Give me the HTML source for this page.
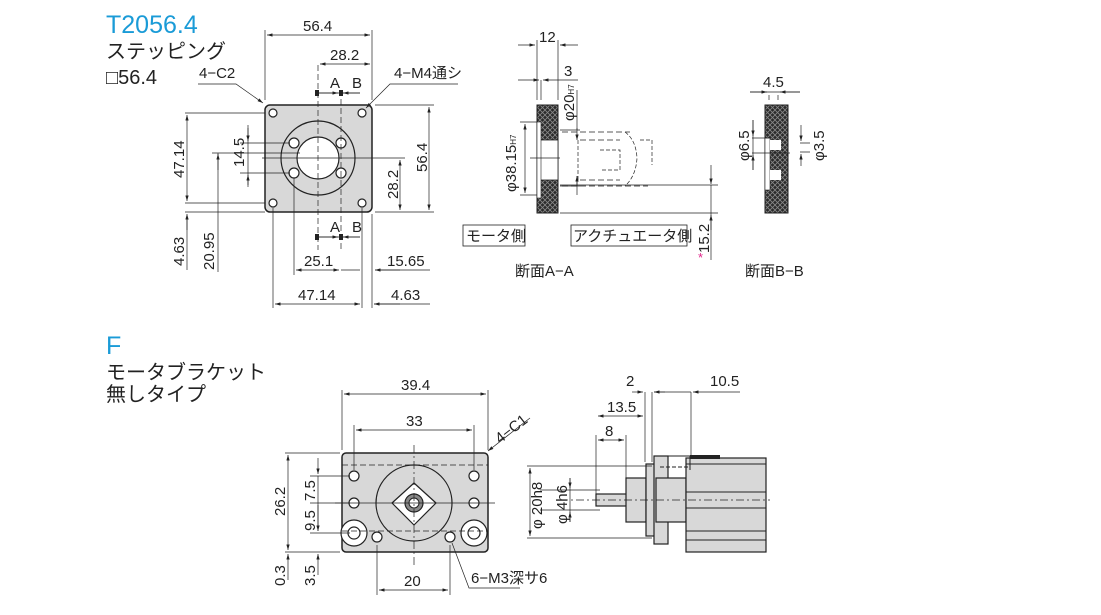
<!DOCTYPE html>
<html><head><meta charset="utf-8"><style>
body{margin:0;background:#fff}
svg{display:block;font-family:"Liberation Sans","Noto Sans CJK JP",sans-serif}
text{fill:#222;font-size:15px}
.t{font-size:15px}
</style></head><body>
<svg width="1101" height="615" viewBox="0 0 1101 615" xmlns="http://www.w3.org/2000/svg">
<defs>
<pattern id="h" width="5" height="5" patternUnits="userSpaceOnUse">
<rect width="5" height="5" fill="#2a2a2a"/><path d="M0 0L5 5M5 0L0 5" stroke="#888" stroke-width="0.8"/>
</pattern>
<marker id="a" viewBox="0 0 10 6" refX="10" refY="3" markerWidth="8" markerHeight="5" orient="auto-start-reverse"><path d="M0 0L10 3L0 6z" fill="#222"/></marker>
</defs>
<text x="106" y="33" style="font-size:25px;fill:#1a9bd7">T2056.4</text>
<text x="106" y="58" style="font-size:20px">ステッピング</text>
<text x="106" y="84" style="font-size:20px">□56.4</text>
<text x="106" y="354" style="font-size:25px;fill:#1a9bd7">F</text>
<text x="106" y="379" style="font-size:20px">モータブラケット</text>
<text x="106" y="401" style="font-size:20px">無しタイプ</text>

<!-- top plate -->
<rect x="265" y="105" width="107" height="107" rx="5" fill="#d8d8d8" stroke="#222" stroke-width="1.5"/>
<circle cx="318" cy="158" r="37" fill="none" stroke="#222" stroke-width="1.2"/>
<circle cx="318" cy="158" r="21" fill="#fff" stroke="#222" stroke-width="1.2"/>
<g fill="#fff" stroke="#222" stroke-width="1.2">
<circle cx="273" cy="113" r="4"/><circle cx="362" cy="113" r="4"/><circle cx="273" cy="203" r="4"/><circle cx="362" cy="203" r="4"/>
<circle cx="294" cy="143" r="5"/><circle cx="341" cy="143" r="5"/><circle cx="294" cy="173" r="5"/><circle cx="341" cy="173" r="5"/>
</g>
<g stroke="#222" stroke-width="0.7" fill="none">
<path d="M318 65V250M341 90V250" stroke-dasharray="6 3"/>
<path d="M262 158H375"/>
<path d="M265 100V30M372 100V30"/>
<path d="M267 35H370" marker-start="url(#a)" marker-end="url(#a)"/>
<path d="M320 64H370" marker-start="url(#a)" marker-end="url(#a)"/>
<path d="M317 93H360"/><path d="M317 93H338" marker-end="url(#a)"/><path d="M360 93H343" marker-end="url(#a)"/>
<path d="M317 237H360"/><path d="M317 237H338" marker-end="url(#a)"/><path d="M360 237H343" marker-end="url(#a)"/>
<path d="M198 84H236L263 103" marker-end="url(#a)"/>
<path d="M458 84H390L366 108" marker-end="url(#a)"/>
<path d="M185 113H265M185 203H265M185 212H265"/>
<path d="M187 115V201" marker-start="url(#a)" marker-end="url(#a)"/>
<path d="M187 216V270"/><path d="M187 230V214" marker-end="url(#a)"/>
<path d="M218 153V272"/><path d="M218 170V154" marker-end="url(#a)"/>
<path d="M212 153H300"/>
<path d="M248 125V187"/><path d="M248 128V141" marker-end="url(#a)"/><path d="M248 185V175" marker-end="url(#a)"/>
<path d="M240 143H290M240 173H290"/>
<path d="M375 158H405M375 212H434M375 105H434"/>
<path d="M400 160V210" marker-start="url(#a)" marker-end="url(#a)"/>
<path d="M429 107V210" marker-start="url(#a)" marker-end="url(#a)"/>
<path d="M294 178V275M273 208V308M362 208V308M372 214V308"/>
<path d="M296 270H339" marker-start="url(#a)" marker-end="url(#a)"/>
<path d="M341 270H360"/><path d="M400 270H375" marker-end="url(#a)"/><path d="M375 270H430"/>
<path d="M275 304H360" marker-start="url(#a)" marker-end="url(#a)"/>
<path d="M400 304H374" marker-end="url(#a)"/><path d="M374 304H430"/>
</g>
<rect x="315" y="90" width="4" height="6" fill="#222"/><rect x="339" y="90" width="4" height="6" fill="#222"/>
<rect x="315" y="234" width="4" height="6" fill="#222"/><rect x="339" y="234" width="4" height="6" fill="#222"/>
<text x="303" y="31">56.4</text>
<text x="330" y="60">28.2</text>
<text x="330" y="88">A</text><text x="352" y="88">B</text>
<text x="330" y="232">A</text><text x="352" y="232">B</text>
<text x="199" y="78">4−C2</text>
<text x="394" y="78">4−M4通シ</text>
<text x="304" y="266">25.1</text><text x="387" y="266">15.65</text>
<text x="298" y="300">47.14</text><text x="391" y="300">4.63</text>
<text transform="translate(184,178) rotate(-90)">47.14</text>
<text transform="translate(244,167) rotate(-90)">14.5</text>
<text transform="translate(184,266) rotate(-90)">4.63</text>
<text transform="translate(214,270) rotate(-90)">20.95</text>
<text transform="translate(398,199) rotate(-90)">28.2</text>
<text transform="translate(427,172) rotate(-90)">56.4</text>

<!-- section A-A -->
<rect x="537" y="105" width="21" height="108" fill="url(#h)" stroke="#222"/>
<rect x="540" y="140" width="18" height="40" fill="#fff" stroke="#222" stroke-width="0.8"/>
<rect x="537" y="122" width="4" height="76" fill="#fff" stroke="#222" stroke-width="0.6"/>
<g stroke="#222" stroke-width="0.7" fill="none">
<path d="M537 100V40M558 100V40" />
<path d="M518 45H535" marker-end="url(#a)"/><path d="M578 45H560" marker-end="url(#a)"/>
<path d="M518 80H539" marker-end="url(#a)"/><path d="M578 80H543" marker-end="url(#a)"/><path d="M541 80V100"/>
<path d="M525 124V193" marker-start="url(#a)" marker-end="url(#a)"/>
<path d="M520 122H537M520 195H537"/>
<path d="M577 90V130"/><path d="M577 128V140" marker-end="url(#a)"/><path d="M577 186V176" marker-end="url(#a)"/><path d="M577 176V195"/>
<path d="M560 130H580M560 186H580M530 158H560"/>
<path d="M562 132H630M562 186H648M580 140H620M580 180H620" stroke-dasharray="6 3"/>
<path d="M578 140V180M625 132Q636 140 637 158Q636 176 625 186M600 150H620V170H600M640 140H652V165" stroke-dasharray="4 2"/>
<path d="M560 213H718M560 185H718"/>
<path d="M711 165V184" marker-end="url(#a)"/><path d="M711 230V215" marker-end="url(#a)"/><path d="M711 185V260"/>
</g>
<text transform="translate(574,121) rotate(-90)">φ20<tspan style="font-size:8px">H7</tspan></text>
<text transform="translate(516,192) rotate(-90)">φ38.15<tspan style="font-size:8px">H7</tspan></text>
<text x="539" y="42">12</text><text x="564" y="76">3</text>
<rect x="463" y="225" width="62" height="21" fill="none" stroke="#222" stroke-width="0.8"/>
<text x="466" y="241">モータ側</text>
<rect x="571" y="225" width="116" height="21" fill="none" stroke="#222" stroke-width="0.8"/>
<text x="573" y="241">アクチュエータ側</text>
<text transform="translate(709,253) rotate(-90)">15.2</text>
<text x="698" y="262" style="fill:#e0248a;font-size:13px">*</text>
<text x="515" y="276">断面A−A</text>

<!-- section B-B -->
<rect x="765" y="105" width="23" height="108" fill="url(#h)" stroke="#222"/>
<rect x="765" y="138" width="5" height="52" fill="#fff" stroke="#222" stroke-width="0.6"/>
<rect x="770" y="140" width="11" height="10" fill="#fff"/><rect x="770" y="170" width="11" height="10" fill="#fff"/>
<g stroke="#222" stroke-width="0.7" fill="none">
<path d="M750 92H800M769 95V100M778 95V100"/>
<path d="M750 92H767" marker-end="url(#a)"/><path d="M800 92H780" marker-end="url(#a)"/>
<path d="M752 138H770M752 153H790M800 143H810M800 152H810"/>
<path d="M753 120V136" marker-end="url(#a)"/><path d="M753 170V155" marker-end="url(#a)"/><path d="M753 120V170"/>
<path d="M801 125V141" marker-end="url(#a)"/><path d="M801 166V154" marker-end="url(#a)"/>
</g>
<text x="763" y="87">4.5</text>
<text transform="translate(749,161) rotate(-90)">φ6.5</text>
<text transform="translate(824,161) rotate(-90)">φ3.5</text>
<text x="745" y="276">断面B−B</text>

<!-- F plate -->
<rect x="342" y="453" width="146" height="99" rx="4" fill="#d8d8d8" stroke="#222" stroke-width="1.5"/>
<circle cx="414" cy="503" r="38" fill="none" stroke="#222" stroke-width="1.2"/>
<path d="M414 483L436 503L414 525L392 503Z" fill="#fff" stroke="#222" stroke-width="1.2" stroke-linejoin="round"/>
<circle cx="414" cy="503" r="9" fill="#888" stroke="#222" stroke-width="1.2"/><circle cx="414" cy="503" r="5" fill="#fff" stroke="#222"/>
<g fill="#fff" stroke="#222" stroke-width="1.2">
<circle cx="354" cy="476" r="5"/><circle cx="474" cy="476" r="5"/><circle cx="354" cy="503" r="5"/><circle cx="474" cy="503" r="5"/>
<circle cx="377" cy="537" r="5"/><circle cx="450" cy="537" r="5"/>
<circle cx="354" cy="533" r="13"/><circle cx="474" cy="533" r="13"/>
<circle cx="354" cy="533" r="6"/><circle cx="474" cy="533" r="6"/>
</g>
<g stroke="#222" stroke-width="0.7" fill="none">
<path d="M342 465H488M342 531H488" stroke-dasharray="6 3"/>
<path d="M414 445V565" stroke-dasharray="8 3 2 3"/>
<path d="M335 503H495"/>
<path d="M342 450V390M488 450V390M354 470V425M474 470V425"/>
<path d="M344 394H486" marker-start="url(#a)" marker-end="url(#a)"/>
<path d="M356 430H472" marker-start="url(#a)" marker-end="url(#a)"/>
<path d="M530 418L488 451" marker-end="url(#a)"/>
<path d="M285 453H340M285 552H340M310 476H350M310 503H350M310 533H350"/>
<path d="M288 455V550" marker-start="url(#a)" marker-end="url(#a)"/>
<path d="M318 458V474" marker-end="url(#a)"/><path d="M318 476V531"/><path d="M318 505V531" marker-end="url(#a)"/>
<path d="M318 575V554" marker-end="url(#a)"/><path d="M288 580V554" marker-end="url(#a)"/>
<path d="M377 545V595M450 545V595"/>
<path d="M379 590H448" marker-start="url(#a)" marker-end="url(#a)"/>
<path d="M452 543L469 588H520"/>
</g>
<text x="401" y="390">39.4</text>
<text x="406" y="426">33</text>
<text transform="translate(500,444) rotate(-38)">4−C1</text>
<text transform="translate(285,516) rotate(-90)">26.2</text>
<text transform="translate(315,501) rotate(-90)">7.5</text>
<text transform="translate(315,531) rotate(-90)">9.5</text>
<text transform="translate(285,586) rotate(-90)">0.3</text>
<text transform="translate(315,586) rotate(-90)">3.5</text>
<text x="404" y="586">20</text>
<text x="471" y="583">6−M3深サ6</text>

<!-- F side view -->
<g stroke="#222" stroke-width="1.2" fill="#d8d8d8">
<rect x="596" y="494" width="32" height="12"/>
<rect x="626" y="478" width="20" height="44"/>
<rect x="646" y="464" width="10" height="72"/>
<rect x="654" y="456" width="14" height="88"/>
<rect x="656" y="478" width="30" height="44"/>
<rect x="686" y="458" width="80" height="94"/>
</g>
<g stroke="#222" stroke-width="1" fill="none">
<path d="M686 464H766M686 492H766M686 508H766M686 531H766M686 540H766"/>
<path d="M668 456H690V470"/>
<path d="M660 467H690" stroke-dasharray="4 2"/>
</g>
<rect x="690" y="455" width="30" height="4" fill="#222"/>
<g stroke="#222" stroke-width="0.7" fill="none">
<path d="M560 500H770" stroke-dasharray="8 3 2 3"/>
<path d="M527 466H652M527 538H652M540 490H600M540 510H600"/>
<path d="M530 468V536" marker-start="url(#a)" marker-end="url(#a)"/>
<path d="M570 478V488" marker-end="url(#a)"/><path d="M570 522V512" marker-end="url(#a)"/><path d="M570 478V522"/>
<path d="M596 494V435M626 480V435M645 462V392M652 462V392M691 455V392"/>
<path d="M598 440H624" marker-start="url(#a)" marker-end="url(#a)"/>
<path d="M598 416H643" marker-start="url(#a)" marker-end="url(#a)"/>
<path d="M632 392H643" marker-end="url(#a)"/><path d="M665 392H654" marker-end="url(#a)"/><path d="M654 392H691"/>
<path d="M740 392H693" marker-end="url(#a)"/>
</g>
<text x="626" y="386">2</text>
<text x="710" y="386">10.5</text>
<text x="607" y="412">13.5</text>
<text x="605" y="436">8</text>
<text transform="translate(542,529) rotate(-90)">φ 20h8</text>
<text transform="translate(567,524) rotate(-90)">φ 4h6</text>
</svg>
</body></html>
